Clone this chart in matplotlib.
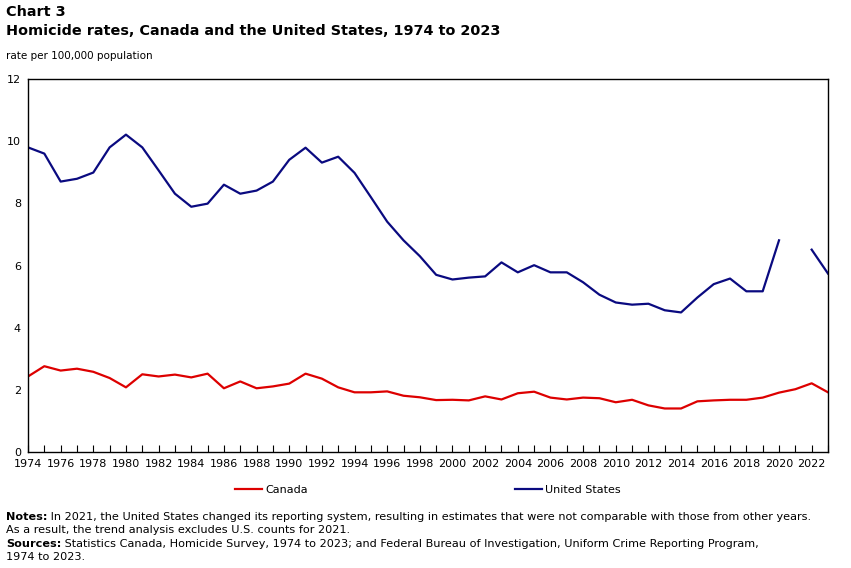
import numpy as np
import matplotlib.pyplot as plt
from matplotlib.lines import Line2D

# Homicide rates per 100,000 population
years = np.arange(1974, 2024)
canada = [2.43, 2.76, 2.62, 2.68, 2.58, 2.38, 2.08, 2.50, 2.43, 2.49,
          2.40, 2.52, 2.05, 2.27, 2.05, 2.11, 2.20, 2.52, 2.36, 2.08,
          1.92, 1.92, 1.95, 1.81, 1.76, 1.67, 1.68, 1.66, 1.79, 1.69,
          1.89, 1.94, 1.75, 1.69, 1.75, 1.73, 1.60, 1.68, 1.50, 1.40,
          1.40, 1.63, 1.66, 1.68, 1.68, 1.75, 1.91, 2.02, 2.21, 1.92]
# 2021 excluded (change in U.S. reporting system)
us = [9.80, 9.60, 8.70, 8.79, 8.99, 9.80, 10.21, 9.80, 9.06, 8.31,
      7.89, 7.99, 8.60, 8.31, 8.41, 8.70, 9.40, 9.79, 9.31, 9.50,
      8.98, 8.20, 7.41, 6.81, 6.30, 5.70, 5.55, 5.61, 5.65, 6.10,
      5.78, 6.01, 5.78, 5.78, 5.46, 5.06, 4.81, 4.74, 4.77, 4.56,
      4.49, 4.97, 5.40, 5.58, 5.17, 5.17, 6.81, np.nan, 6.51, 5.74]

red = '#DD0000'
navy = '#0A0A80'

fig = plt.figure(figsize=(8.51, 5.68), dpi=100)
ax = fig.add_axes([28/851, 1 - 452/568, 800/851, 373/568])

ax.plot(years, canada, color=red, lw=1.6)
ax.plot(years, us, color=navy, lw=1.6)

ax.set_xlim(1974, 2023)
ax.set_ylim(0, 12)
ax.set_yticks([0, 2, 4, 6, 8, 10, 12])
ax.set_xticks(np.arange(1974, 2024, 2))
ax.set_xticks(years, minor=True)
ax.tick_params(axis='y', length=0, pad=5, labelsize=8)
ax.tick_params(axis='x', which='both', direction='in', length=5, width=0.8,
               pad=5, labelsize=8)
for s in ax.spines.values():
    s.set_linewidth(1.0)

fig.text(6/851, 1 - 12/568, 'Chart 3', fontsize=10.4, fontweight='bold', va='center')
fig.text(6/851, 1 - 31/568, 'Homicide rates, Canada and the United States, 1974 to 2023',
         fontsize=10.4, fontweight='bold', va='center')
fig.text(6/851, 1 - 56/568, 'rate per 100,000 population', fontsize=7.5, va='center')

handles = [Line2D([], [], color=red, lw=1.6), Line2D([], [], color=navy, lw=1.6)]
fig.legend(handles, ['Canada', 'United States'], loc='center',
           bbox_to_anchor=(428/851, 1 - 490/568), ncol=2, frameon=False,
           fontsize=8, handlelength=2.4, handletextpad=0.27, columnspacing=18.7)

# notes and sources, bold lead-in followed by plain text
fs = 8.1
notes = [
    ('Notes:', ' In 2021, the United States changed its reporting system, resulting in estimates that were not comparable with those from other years.', 517),
    ('', 'As a result, the trend analysis excludes U.S. counts for 2021.', 530),
    ('Sources:', ' Statistics Canada, Homicide Survey, 1974 to 2023; and Federal Bureau of Investigation, Uniform Crime Reporting Program,', 544),
    ('', '1974 to 2023.', 557),
]
for lead, rest, y in notes:
    if lead:
        t = fig.text(6/851, 1 - y/568, lead, fontsize=fs, fontweight='bold', va='center')
        fig.add_artist(plt.Annotation(rest, xy=(1, 0), xycoords=t, va='bottom',
                                      fontsize=fs))
    else:
        fig.text(6/851, 1 - y/568, rest, fontsize=fs, va='center')

fig.savefig('out.png', dpi=100)
